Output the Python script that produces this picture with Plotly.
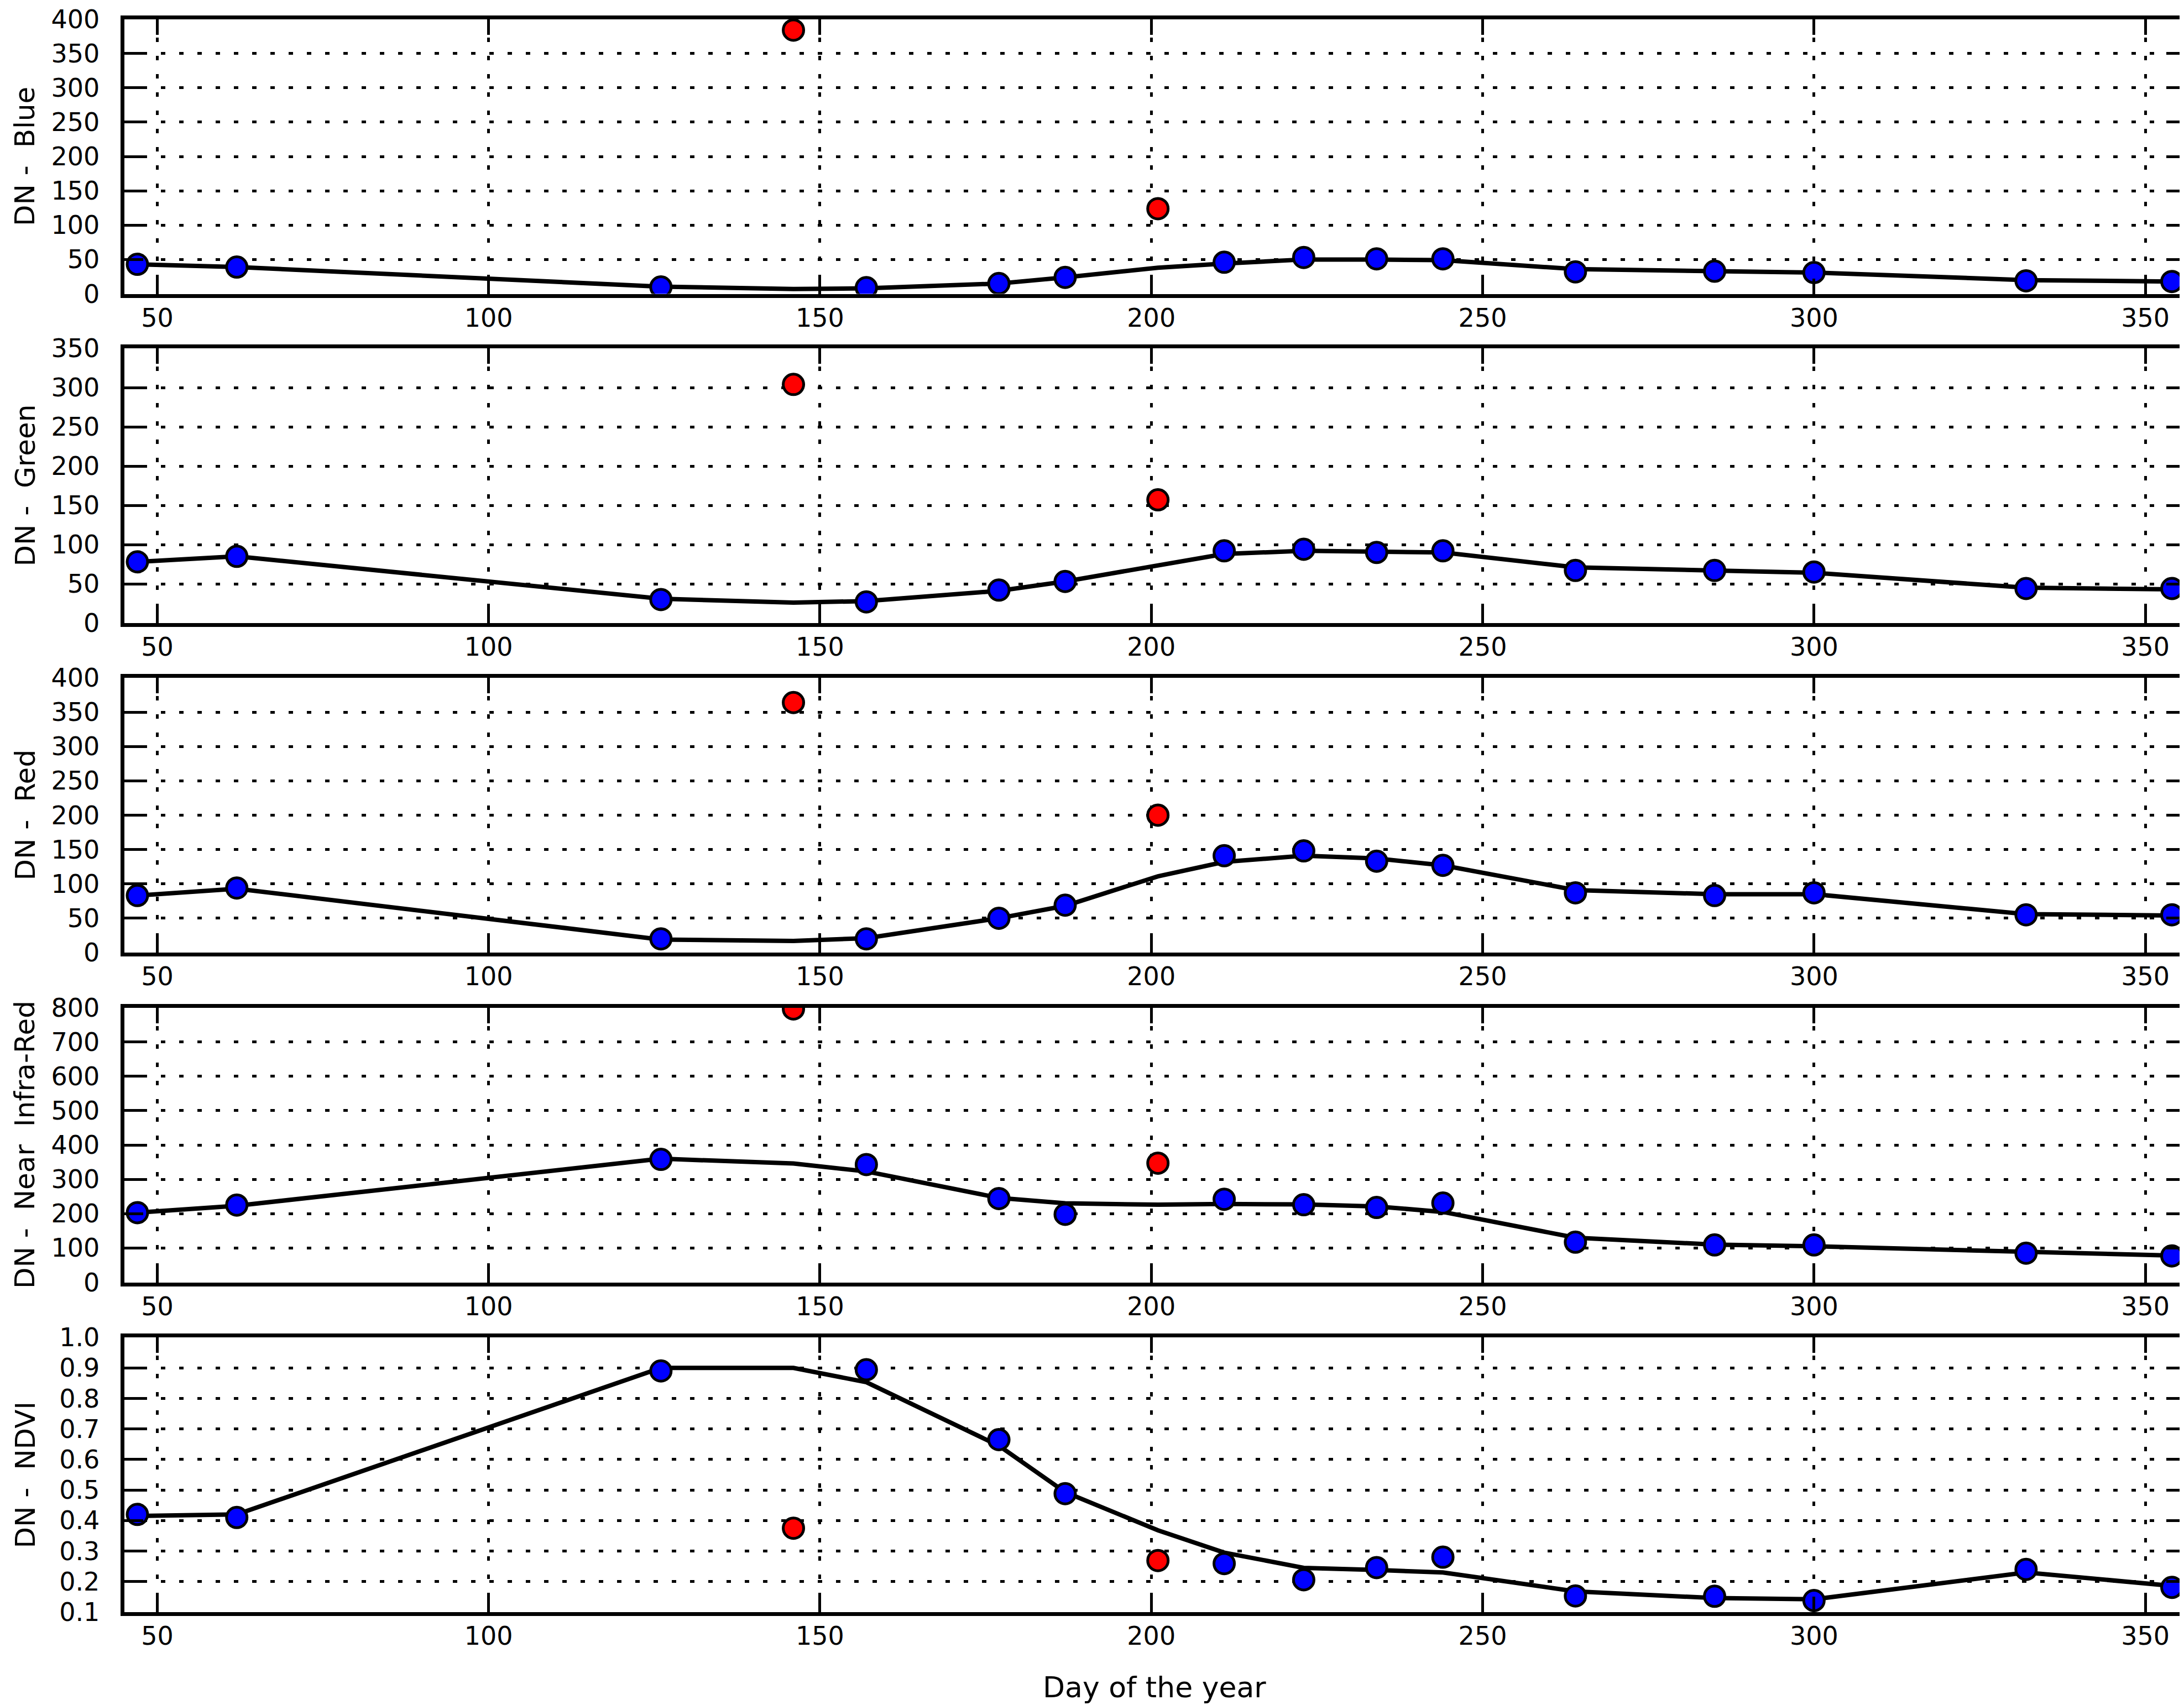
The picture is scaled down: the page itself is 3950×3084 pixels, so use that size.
import plotly.graph_objects as go

# ---------------- data ----------------
days = [47, 62, 126, 146, 157, 177, 187, 201, 211, 223, 234, 244, 264, 285, 300, 332, 354]
outlier_days = [146, 201]

blue_obs = [43, 39, 10, 384, 9, 15, 24, 124, 46, 53, 51, 51, 32, 33, 31, 19, 18]
blue_fit = [43, 39, 10.5, 7, 8, 15, 24, 38, 44, 50, 50, 49, 36, 33, 31, 20, 18]

green_obs = [78, 85, 30, 304, 27, 42, 53, 157, 92, 94, 90, 92, 67, 67, 65, 44, 44]
green_fit = [78, 85, 31, 26, 28, 41, 53, 73, 88, 92, 91, 90, 71, 67, 64, 45, 43]

red_obs = [83, 94, 20, 364, 20, 50, 69, 200, 141, 148, 133, 127, 87, 83, 87, 55, 55]
red_fit = [83, 93, 19, 17, 21, 50, 68, 111, 132, 141, 137, 127, 91, 85, 85, 56, 54]

nir_obs = [203, 225, 358, 796, 343, 244, 198, 347, 242, 226, 218, 231, 117, 109, 109, 85, 77]
nir_fit = [203, 223, 360, 346, 323, 246, 230, 226, 228, 227, 221, 205, 130, 110, 105, 88, 78]

ndvi_obs = [0.42, 0.41, 0.89, 0.375, 0.894, 0.665, 0.488, 0.269, 0.259, 0.206, 0.246, 0.28,
            0.153, 0.152, 0.138, 0.24, 0.181]
ndvi_fit = [0.415, 0.42, 0.9, 0.9, 0.853, 0.645, 0.493, 0.368, 0.295, 0.245, 0.238, 0.23,
            0.168, 0.146, 0.142, 0.23, 0.186]

y_labels = ["DN -  Blue", "DN -  Green", "DN -  Red", "DN -  Near  Infra-Red", "DN -  NDVI"]
y_ranges = [[0, 400], [0, 350], [0, 400], [0, 800], [0.1, 1.0]]
y_dticks = [50, 50, 50, 100, 0.1]
x_range = [45, 356]
x_ticks = [50, 100, 150, 200, 250, 300, 350]
x_title = "Day of the year"

panels = [
    (blue_obs, blue_fit), (green_obs, green_fit), (red_obs, red_fit),
    (nir_obs, nir_fit), (ndvi_obs, ndvi_fit),
]

# ---------------- layout geometry (pixels) ----------------
W, H = 3950, 3084
left_px, right_px = 216.5, 3944
tops_px = [26.5, 622, 1218, 1814.5, 2411]
panel_h = 497

FONT = "DejaVu Sans"
fig = go.Figure()

for i, (obs, fit) in enumerate(panels):
    ax = "" if i == 0 else str(i + 1)
    xref, yref = "x" + ax, "y" + ax
    # fitted line
    fig.add_trace(go.Scatter(x=days, y=fit, mode="lines",
                             line=dict(color="black", width=8),
                             xaxis=xref, yaxis=yref, hoverinfo="skip"))
    good_x = [d for d in days if d not in outlier_days]
    good_y = [v for d, v in zip(days, obs) if d not in outlier_days]
    bad_x = [d for d in days if d in outlier_days]
    bad_y = [v for d, v in zip(days, obs) if d in outlier_days]
    fig.add_trace(go.Scatter(x=good_x, y=good_y, mode="markers",
                             marker=dict(color="#0000ff", size=37,
                                         line=dict(color="black", width=5)),
                             xaxis=xref, yaxis=yref))
    fig.add_trace(go.Scatter(x=bad_x, y=bad_y, mode="markers",
                             marker=dict(color="#ff0000", size=37,
                                         line=dict(color="black", width=5)),
                             xaxis=xref, yaxis=yref))

    top = tops_px[i]
    bot = top + panel_h
    ydom = [1 - bot / H, 1 - top / H]
    xdom = [left_px / W, right_px / W]

    common = dict(showline=True, linewidth=7, linecolor="black", mirror="ticks",
                  ticks="inside", tickwidth=5, tickcolor="black",
                  showgrid=True, gridcolor="black", gridwidth=5, griddash="8px,25px",
                  zeroline=False, automargin=False, ticklabeloverflow="allow",
                  tickfont=dict(family=FONT, size=46, color="black"))
    fig.layout["xaxis" + ax] = dict(domain=xdom, range=x_range, tickvals=x_ticks,
                                    ticklen=28, anchor=yref, ticklabelstandoff=-3,
                                    **common)
    fig.layout["yaxis" + ax] = dict(domain=ydom, range=y_ranges[i], dtick=y_dticks[i],
                                    tick0=y_ranges[i][0], ticklen=34, anchor=xref,
                                    tickformat=".1f" if i == 4 else "d",
                                    ticklabelstandoff=28, **common)

    fig.add_annotation(text=y_labels[i], xref="paper", yref="paper",
                       x=37 / W, y=1 - (top + panel_h / 2) / H,
                       xanchor="center", yanchor="middle", textangle=-90,
                       borderpad=0, showarrow=False,
                       font=dict(family=FONT, size=50, color="black"))

fig.add_annotation(text=x_title, xref="paper", yref="paper",
                   x=(left_px + right_px) / 2 / W, y=1 - 3044 / H,
                   xanchor="center", yanchor="middle", showarrow=False,
                   font=dict(family=FONT, size=52, color="black"))

fig.update_layout(template="none", width=W, height=H,
                  margin=dict(l=0, r=0, t=0, b=0, pad=0, autoexpand=False),
                  paper_bgcolor="white", plot_bgcolor="white", showlegend=False)

fig.write_html("out.html")
